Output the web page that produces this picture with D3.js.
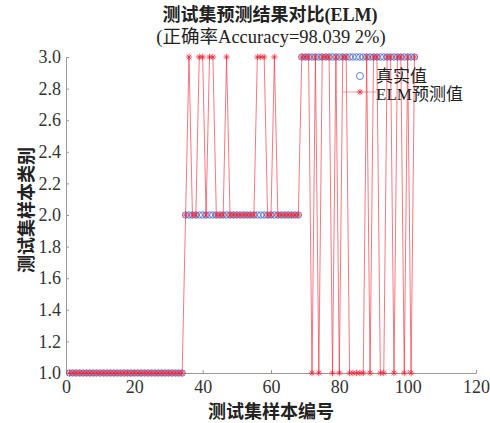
<!DOCTYPE html>
<html>
<head>
<meta charset="utf-8">
<script src="https://cdn.jsdelivr.net/npm/d3@7"></script>
<style>
  body { margin: 0; background: #fff; }
  text { font-family: "Liberation Serif", "Times New Roman", "Noto Sans CJK SC", serif; }
</style>
</head>
<body>
<div id="chart"></div>
<script>
// test sample numbers 1..102
var sampleNo = [
  1,2,3,4,5,6,7,8,9,10,11,12,13,14,15,16,17,
  18,19,20,21,22,23,24,25,26,27,28,29,30,31,32,33,34,
  35,36,37,38,39,40,41,42,43,44,45,46,47,48,49,50,51,
  52,53,54,55,56,57,58,59,60,61,62,63,64,65,66,67,68,
  69,70,71,72,73,74,75,76,77,78,79,80,81,82,83,84,85,
  86,87,88,89,90,91,92,93,94,95,96,97,98,99,100,101,102
]
// true class of each sample
var trueClass = [
  1,1,1,1,1,1,1,1,1,1,1,1,1,1,1,1,1,
  1,1,1,1,1,1,1,1,1,1,1,1,1,1,1,1,1,
  2,2,2,2,2,2,2,2,2,2,2,2,2,2,2,2,2,
  2,2,2,2,2,2,2,2,2,2,2,2,2,2,2,2,2,
  3,3,3,3,3,3,3,3,3,3,3,3,3,3,3,3,3,
  3,3,3,3,3,3,3,3,3,3,3,3,3,3,3,3,3
]
// ELM predicted class
var predClass = [
  1,1,1,1,1,1,1,1,1,1,1,1,1,1,1,1,1,
  1,1,1,1,1,1,1,1,1,1,1,1,1,1,1,1,1,
  2,3,2,2,3,3,2,3,3,2,2,2,3,2,2,2,2,
  2,2,2,2,3,3,3,2,2,3,2,2,2,2,2,2,2,
  3,3,3,1,3,1,3,3,3,1,3,1,3,3,1,1,1,
  1,1,3,1,3,3,1,1,3,3,1,3,3,1,3,1,3
]
var xTicks = [0, 20, 40, 60, 80, 100, 120]
var yTicks = [1.0, 1.2, 1.4, 1.6, 1.8, 2.0, 2.2, 2.4, 2.6, 2.8, 3.0]

var W = 490, H = 423
var blue = "#5072cc", red = "#ee2a3a"

var svg = d3.select("#chart").append("svg")
    .attr("width", W).attr("height", H)

var x = d3.scaleLinear().domain([0, 120]).range([66, 476])
var y = d3.scaleLinear().domain([1, 3]).range([373, 57])

// axes (inward ticks, MATLAB style)
var gx = svg.append("g")
    .attr("transform", "translate(0," + y(1) + ")")
    .call(d3.axisBottom(x).tickValues(xTicks).tickSize(-3).tickSizeOuter(0).tickPadding(7))
var gy = svg.append("g")
    .attr("transform", "translate(" + x(0) + ",0)")
    .call(d3.axisLeft(y).tickValues(yTicks).tickFormat(d3.format(".1f")).tickSize(-3).tickSizeOuter(0).tickPadding(5))

svg.selectAll("g").attr("font-family", null)
svg.selectAll(".domain, .tick line").attr("stroke", "#999").attr("stroke-width", 1)
svg.selectAll(".tick text")
    .style("font-size", "18px").attr("fill", "#333")

// true values: blue circles
svg.append("g").selectAll("circle")
    .data(sampleNo)
    .enter().append("circle")
    .attr("cx", function(d, i) { return x(d) })
    .attr("cy", function(d, i) { return y(trueClass[i]) })
    .attr("r", 3.2)
    .attr("fill", "none")
    .attr("stroke", blue)
    .attr("stroke-width", 0.9)

// predicted: red line with star markers
var line = d3.line()
    .x(function(d, i) { return x(d) })
    .y(function(d, i) { return y(predClass[i]) })

svg.append("path")
    .attr("d", line(sampleNo))
    .attr("fill", "none")
    .attr("stroke", red)
    .attr("stroke-width", 0.8)
    .attr("stroke-opacity", 0.8)

function star(cx, cy) {
  var s = 3.2, t = 2.3
  return "M" + (cx - s) + "," + cy + "h" + (2 * s) +
         "M" + cx + "," + (cy - s) + "v" + (2 * s) +
         "M" + (cx - t) + "," + (cy - t) + "l" + (2 * t) + "," + (2 * t) +
         "M" + (cx - t) + "," + (cy + t) + "l" + (2 * t) + "," + (-2 * t)
}

svg.append("g").selectAll("path")
    .data(sampleNo)
    .enter().append("path")
    .attr("d", function(d, i) { return star(x(d), y(predClass[i])) })
    .attr("stroke", red)
    .attr("stroke-width", 0.8)
    .attr("fill", "none")

// legend
var lg = svg.append("g")
lg.append("circle").attr("cx", 360).attr("cy", 76).attr("r", 3.5)
    .attr("fill", "none").attr("stroke", blue).attr("stroke-width", 0.9)
lg.append("text").attr("x", 376).attr("y", 82).text("真实值")
    .style("font-size", "17px").attr("fill", "#222")
lg.append("line").attr("x1", 343).attr("x2", 376).attr("y1", 92).attr("y2", 92)
    .attr("stroke", red).attr("stroke-width", 0.8).attr("stroke-opacity", 0.6)
lg.append("path").attr("d", star(360, 92))
    .attr("stroke", red).attr("stroke-width", 0.8)
lg.append("text").attr("x", 376).attr("y", 100).text("ELM预测值")
    .style("font-size", "17px").attr("fill", "#222")

// titles
svg.append("text").attr("x", 270).attr("y", 21)
    .attr("text-anchor", "middle")
    .style("font-size", "18px").style("font-weight", "bold").attr("fill", "#222")
    .text("测试集预测结果对比(ELM)")
svg.append("text").attr("x", 271).attr("y", 43)
    .attr("text-anchor", "middle")
    .style("font-size", "18.5px").attr("fill", "#222")
    .text("(正确率Accuracy=98.039 2%)")

svg.append("text").attr("x", 271).attr("y", 418)
    .attr("text-anchor", "middle")
    .style("font-size", "18px").style("font-weight", "bold").attr("fill", "#222")
    .text("测试集样本编号")

svg.append("text")
    .attr("transform", "translate(33,210) rotate(-90)")
    .attr("text-anchor", "middle")
    .style("font-size", "18px").style("font-weight", "bold").attr("fill", "#222")
    .text("测试集样本类别")
</script>
</body>
</html>
